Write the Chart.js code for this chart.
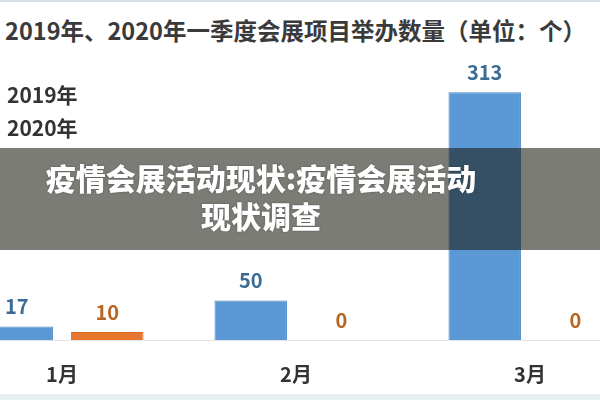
<!DOCTYPE html>
<html>
<head>
<meta charset="utf-8">
<script src="https://cdn.jsdelivr.net/npm/chart.js@4/dist/chart.umd.min.js"></script>
<style>
  html, body { margin: 0; padding: 0; background: #fff; }
  #frame {
    position: relative; width: 600px; height: 400px; overflow: hidden;
    background: #fff; font-family: "Noto Sans CJK SC", "Noto Sans", sans-serif;
  }
  #frame::before {
    content: ''; position: absolute; left: 0; top: 0; width: 600px; height: 2px; background: #d8dfe6;
  }
  #frame::after {
    content: ''; position: absolute; left: 0; top: 394px; width: 600px; height: 6px; background: #e6eef2;
  }
  #title {
    position: absolute; left: 0; top: 13px; width: 591px; text-align: center;
    font-size: 23.5px; font-weight: bold; color: #3a3a3a; white-space: nowrap;
  }
  #wrap { position: absolute; left: -55px; top: 0; width: 710px; height: 400px; }
  #band {
    position: absolute; left: 0; top: 148px; width: 600px; height: 102px;
    background: rgba(25, 25, 15, 0.57);
  }
  #bandText {
    position: absolute; left: 0; top: 158px; width: 522px; text-align: center;
    font-size: 30px; font-weight: 900; line-height: 38px; color: #fff;
    text-shadow: 0 0 2px rgba(0,0,0,0.4);
  }
</style>
</head>
<body>
<div id="frame">
  <div id="title">2019年、2020年一季度会展项目举办数量（单位：个）</div>
  <div id="wrap"><canvas id="chart" width="710" height="400"></canvas></div>
  <div id="band"></div>
  <div id="bandText">疫情会展活动现状:疫情会展活动<br>现状调查</div>
</div>
<script>
const ctx = document.getElementById('chart').getContext('2d')

const months = ['1月', '2月', '3月']
const series2019 = [17, 50, 313]
const series2020 = [10, 0, 0]
const seriesNames = ['2019年', '2020年']

const FONT = '"Noto Sans CJK SC", "Noto Sans", sans-serif'

// value labels above each bar
const valueLabels = {
    id: 'valueLabels',
    afterDatasetsDraw(chart) {
        const c = chart.ctx
        c.save()
        c.font = 'bold 20px ' + FONT
        c.textAlign = 'center'
        c.textBaseline = 'bottom'
        chart.data.datasets.forEach((ds, i) => {
            const meta = chart.getDatasetMeta(i)
            meta.data.forEach((bar, j) => {
                c.fillStyle = ds.labelColor
                c.fillText(ds.data[j], bar.x, bar.y - 10)
            })
        })
        c.restore()
    }
}

// legend stacked at the left, swatches run off the edge
const sideLegend = {
    id: 'sideLegend',
    afterDraw(chart) {
        const c = chart.ctx
        c.save()
        c.font = 'bold 21px ' + FONT
        c.textBaseline = 'middle'
        chart.data.datasets.forEach((ds, i) => {
            const y = 95 + i * 33
            c.fillStyle = ds.backgroundColor
            c.globalAlpha = 0.35
            c.fillRect(38, y - 7, 16, 14)
            c.globalAlpha = 1
            c.fillStyle = '#333'
            c.fillText(ds.label, 62, y)
        })
        c.restore()
    }
}

new Chart(ctx, {
    type: 'bar',
    data: {
        labels: months,
        datasets: [
            {
                label: seriesNames[0],
                data: series2019,
                backgroundColor: '#5a98d6',
                borderColor: '#4a86c6',
                borderWidth: 1,
                labelColor: '#3b6a95'
            },
            {
                label: seriesNames[1],
                data: series2020,
                backgroundColor: '#e8772e',
                borderColor: '#d96a24',
                borderWidth: 1,
                labelColor: '#b8661f'
            }
        ]
    },
    options: {
        responsive: false,
        animation: false,
        categoryPercentage: 0.774,
        barPercentage: 0.8,
        layout: { padding: { left: 0, right: 8, top: 63, bottom: 0 } },
        plugins: {
            legend: { display: false },
            title: { display: false },
            tooltip: { enabled: false }
        },
        scales: {
            x: {
                afterFit(scale) { scale.height = 60 },
                grid: { display: false, drawTicks: false },
                border: { display: true, color: '#e3e3e3', width: 1 },
                ticks: {
                    padding: 22,
                    color: '#333',
                    font: { family: FONT, size: 20, weight: 'bold' }
                }
            },
            y: {
                display: false,
                min: 0,
                max: 350
            }
        }
    },
    plugins: [valueLabels, sideLegend]
})
</script>
</body>
</html>
